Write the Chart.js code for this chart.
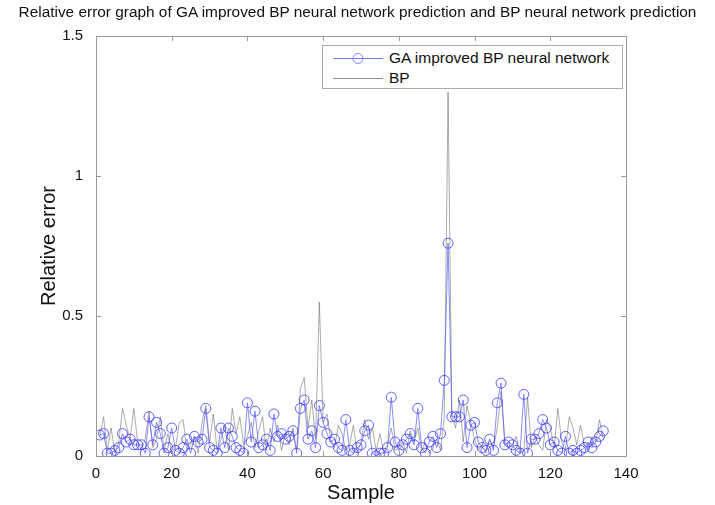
<!DOCTYPE html>
<html>
<head>
<meta charset="utf-8">
<script src="https://cdn.jsdelivr.net/npm/chart.js@4.4.1/dist/chart.umd.min.js"></script>
<style>
    body { margin: 0; background: #fff; }
    #wrap { position: relative; width: 715px; height: 505px; }
    #title {
        position: absolute; left: 0; top: 3px; width: 715px; text-align: center;
        font-family: "Liberation Sans", Arial, sans-serif; font-size: 15.4px; color: #111;
        white-space: nowrap;
    }
    #legendBox {
        position: absolute; left: 322px; top: 45px; width: 299px; height: 42px;
        border: 1px solid #aaa; background: #fff;
        font-family: "Liberation Sans", Arial, sans-serif; font-size: 15.5px; color: #111;
    }
    .row { position: absolute; left: 0; height: 20px; width: 100%; }
    .row span { position: absolute; left: 66px; top: 1px; }
    .row canvas { position: absolute; left: 8px; top: 0; }
</style>
</head>
<body>
<div id="wrap">
    <canvas id="errorChart" width="715" height="505"></canvas>
    <div id="title">Relative error graph of GA improved BP neural network prediction and BP neural network prediction</div>
    <div id="legendBox">
        <div class="row" style="top:2px"><canvas id="lgGa" width="56" height="20"></canvas><span>GA improved BP neural network</span></div>
        <div class="row" style="top:22px"><canvas id="lgBp" width="56" height="20"></canvas><span>BP</span></div>
    </div>
</div>
<script>
// Relative error per sample
const samples = [];
for (let i = 1; i <= 134; i++) samples.push(i);

const gaError = [
    0.075, 0.08, 0.01, 0.01, 0.02, 0.03, 0.08, 0.05, 0.06, 0.04,
    0.04, 0.04, 0.01, 0.14, 0.04, 0.12, 0.08, 0.01, 0.03, 0.10,
    0.02, 0.01, 0.03, 0.06, 0.01, 0.07, 0.05, 0.06, 0.17, 0.03,
    0.02, 0.01, 0.10, 0.03, 0.10, 0.07, 0.03, 0.02, 0.01, 0.19,
    0.05, 0.16, 0.03, 0.04, 0.06, 0.02, 0.15, 0.07, 0.08, 0.06,
    0.07, 0.09, 0.01, 0.17, 0.20, 0.06, 0.09, 0.03, 0.18, 0.12,
    0.08, 0.05, 0.06, 0.03, 0.02, 0.13, 0.02, 0.01, 0.03, 0.04,
    0.09, 0.11, 0.01, 0.00, 0.01, 0.01, 0.03, 0.21, 0.05, 0.02,
    0.04, 0.06, 0.08, 0.04, 0.17, 0.03, 0.01, 0.05, 0.07, 0.03,
    0.08, 0.27, 0.76, 0.14, 0.14, 0.14, 0.20, 0.03, 0.11, 0.12,
    0.05, 0.03, 0.02, 0.06, 0.02, 0.19, 0.26, 0.04, 0.05, 0.04,
    0.02, 0.01, 0.22, 0.01, 0.06, 0.06, 0.08, 0.13, 0.10, 0.04,
    0.05, 0.02, 0.01, 0.07, 0.01, 0.02, 0.01, 0.02, 0.03, 0.05,
    0.03, 0.05, 0.07, 0.09
];

const bpError = [
    0.07, 0.14, 0.02, 0.10, 0.01, 0.05, 0.17, 0.11, 0.06, 0.17,
    0.05, 0.02, 0.06, 0.16, 0.03, 0.06, 0.14, 0.02, 0.08, 0.01,
    0.03, 0.12, 0.13, 0.02, 0.04, 0.07, 0.01, 0.12, 0.18, 0.05,
    0.15, 0.02, 0.06, 0.11, 0.02, 0.17, 0.08, 0.14, 0.04, 0.07,
    0.12, 0.03, 0.09, 0.14, 0.02, 0.10, 0.05, 0.11, 0.02, 0.08,
    0.04, 0.10, 0.02, 0.24, 0.28, 0.10, 0.20, 0.06, 0.55, 0.12,
    0.15, 0.06, 0.03, 0.11, 0.08, 0.02, 0.04, 0.11, 0.01, 0.05,
    0.13, 0.06, 0.10, 0.02, 0.08, 0.01, 0.04, 0.10, 0.02, 0.03,
    0.05, 0.01, 0.09, 0.05, 0.10, 0.02, 0.05, 0.01, 0.03, 0.06,
    0.02, 0.14, 1.30, 0.15, 0.10, 0.20, 0.05, 0.18, 0.12, 0.06,
    0.02, 0.04, 0.01, 0.06, 0.03, 0.10, 0.23, 0.05, 0.03, 0.04,
    0.07, 0.01, 0.02, 0.21, 0.03, 0.07, 0.04, 0.02, 0.13, 0.10,
    0.03, 0.17, 0.05, 0.02, 0.14, 0.10, 0.04, 0.11, 0.04, 0.02,
    0.07, 0.05, 0.13, 0.06
];

const xTicks = [0, 20, 40, 60, 80, 100, 120, 140];
const yTicks = [0, 0.5, 1, 1.5];

const gaColor = '#5a5aff';
const bpColor = 'rgba(80, 80, 80, 0.8)';
const font = '"Liberation Sans", Arial, sans-serif';

// MATLAB style box with inward ticks
const boxPlugin = {
    id: 'box',
    afterDraw(chart) {
        const { ctx, chartArea: a, scales } = chart;
        ctx.save();
        ctx.strokeStyle = '#999';
        ctx.lineWidth = 1;
        ctx.strokeRect(a.left + 0.5, a.top + 0.5, a.right - a.left, a.bottom - a.top);
        ctx.beginPath();
        xTicks.forEach(v => {
            const px = Math.round(scales.x.getPixelForValue(v)) + 0.5;
            ctx.moveTo(px, a.bottom); ctx.lineTo(px, a.bottom - 5);
            ctx.moveTo(px, a.top); ctx.lineTo(px, a.top + 5);
        });
        yTicks.forEach(v => {
            const py = Math.round(scales.y.getPixelForValue(v)) + 0.5;
            ctx.moveTo(a.left, py); ctx.lineTo(a.left + 5, py);
            ctx.moveTo(a.right, py); ctx.lineTo(a.right - 5, py);
        });
        ctx.stroke();
        ctx.restore();
    }
};

new Chart(document.getElementById('errorChart'), {
    type: 'line',
    data: {
        datasets: [
            {
                label: 'GA improved BP neural network',
                data: samples.map((s, i) => ({ x: s, y: gaError[i] })),
                borderColor: gaColor,
                borderWidth: 0.7,
                pointStyle: 'circle',
                pointRadius: 5,
                pointBorderWidth: 0.8,
                pointBorderColor: '#3a3aff',
                pointBackgroundColor: 'rgba(0,0,0,0)',
                tension: 0
            },
            {
                label: 'BP',
                data: samples.map((s, i) => ({ x: s, y: bpError[i] })),
                borderColor: bpColor,
                borderWidth: 0.6,
                pointRadius: 0,
                tension: 0
            }
        ]
    },
    options: {
        responsive: false,
        animation: false,
        layout: { padding: { left: 37, right: 89, top: 36, bottom: 0 } },
        plugins: {
            legend: { display: false },
            tooltip: { enabled: false },
            title: { display: false }
        },
        scales: {
            x: {
                type: 'linear',
                min: 0,
                max: 140,
                afterFit(scale) { scale.height = 49; },
                grid: { display: false },
                border: { display: false },
                ticks: {
                    stepSize: 20,
                    color: '#111',
                    padding: 1,
                    font: { family: font, size: 15 }
                },
                title: {
                    display: true,
                    text: 'Sample',
                    color: '#111',
                    padding: { top: 0, bottom: 0 },
                    font: { family: font, size: 20 }
                }
            },
            y: {
                min: 0,
                max: 1.5,
                afterFit(scale) { scale.width = 59; },
                grid: { display: false },
                border: { display: false },
                ticks: {
                    stepSize: 0.5,
                    color: '#111',
                    padding: 5,
                    font: { family: font, size: 15 },
                    callback: v => String(v)
                },
                title: {
                    display: true,
                    text: 'Relative error',
                    color: '#111',
                    padding: { top: 0, bottom: 0 },
                    font: { family: font, size: 20 }
                }
            }
        }
    },
    plugins: [boxPlugin]
});

// legend swatches
function drawSwatch(id, color, marker) {
    const c = document.getElementById(id).getContext('2d');
    c.strokeStyle = color;
    c.lineWidth = 0.8;
    c.beginPath();
    c.moveTo(2, 10.5); c.lineTo(52, 10.5);
    c.stroke();
    if (marker) {
        c.strokeStyle = '#6a6aff';
        c.beginPath();
        c.arc(27, 10.5, 5, 0, Math.PI * 2);
        c.stroke();
    }
}
drawSwatch('lgGa', gaColor, true);
drawSwatch('lgBp', bpColor, false);
</script>
</body>
</html>
